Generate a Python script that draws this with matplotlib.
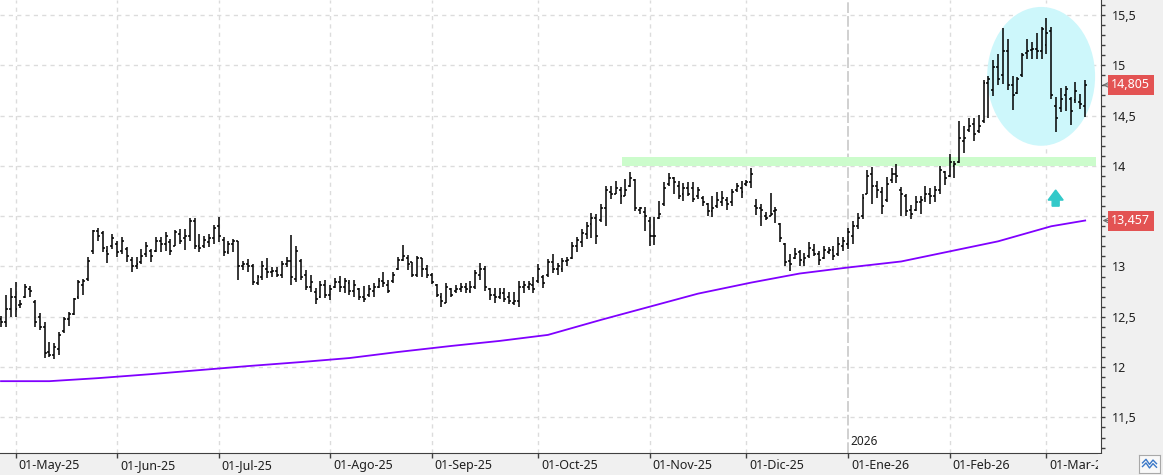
import matplotlib
matplotlib.use("Agg")
import matplotlib.pyplot as plt
import matplotlib.transforms as mtransforms
from matplotlib.patches import Ellipse, Rectangle, FancyArrow
from matplotlib.ticker import MultipleLocator, FuncFormatter
import pandas as pd

plt.rcParams['font.family'] = ['Noto Sans', 'DejaVu Sans']

# daily OHLC, 28-Apr-25 .. 12-Mar-26 (trading days)
high = [
    12.51, 12.72, 12.79, 12.85, 12.67, 12.83, 12.81, 12.67, 12.54, 12.45,
    12.25, 12.24, 12.35, 12.50, 12.55, 12.69, 12.87, 12.88, 13.09, 13.36,
    13.38, 13.35, 13.20, 13.32, 13.25, 13.29, 13.19, 13.09, 13.09, 13.17,
    13.24, 13.17, 13.29, 13.29, 13.34, 13.27, 13.36, 13.37, 13.37, 13.48,
    13.48, 13.32, 13.30, 13.32, 13.41, 13.49, 13.29, 13.25, 13.27, 13.25,
    13.05, 13.07, 13.02, 12.92, 13.05, 13.08, 12.99, 12.99, 13.05, 13.09,
    13.31, 13.20, 13.07, 12.97, 12.92, 12.79, 12.86, 12.87, 12.82, 12.89,
    12.91, 12.89, 12.87, 12.87, 12.79, 12.81, 12.82, 12.84, 12.89, 12.95,
    12.87, 12.95, 13.09, 13.21, 13.11, 13.04, 13.10, 13.08, 13.01, 12.94,
    12.83, 12.74, 12.84, 12.79, 12.82, 12.84, 12.84, 12.86, 12.97, 13.03,
    13.00, 12.79, 12.79, 12.79, 12.79, 12.75, 12.75, 12.86, 12.86, 12.86,
    12.90, 13.02, 12.92, 13.07, 13.12, 13.03, 13.08, 13.09, 13.24, 13.29,
    13.37, 13.44, 13.53, 13.52, 13.62, 13.80, 13.80, 13.85, 13.79, 13.87,
    13.94, 13.87, 13.59, 13.59, 13.49, 13.49, 13.65, 13.84, 13.93, 13.89,
    13.85, 13.83, 13.84, 13.84, 13.79, 13.70, 13.63, 13.70, 13.74, 13.75,
    13.69, 13.77, 13.83, 13.85, 13.86, 13.98, 13.67, 13.62, 13.54, 13.73,
    13.59, 13.43, 13.23, 13.12, 13.18, 13.16, 13.13, 13.24, 13.22, 13.15,
    13.20, 13.19, 13.20, 13.29, 13.29, 13.38, 13.45, 13.53, 13.72, 13.96,
    13.99, 13.85, 13.79, 13.89, 13.98, 14.02, 13.79, 13.72, 13.61, 13.70,
    13.70, 13.80, 13.78, 13.80, 14.00, 13.95, 14.12, 14.05, 14.45, 14.40,
    14.48, 14.48, 14.51, 14.85, 14.89, 15.05, 15.11, 15.37, 15.26, 14.89,
    14.88, 15.12, 15.26, 15.23, 15.32, 15.38, 15.47, 15.38, 14.68, 14.77,
    14.79, 14.68, 14.83, 14.71, 14.85]

low = [
    12.40, 12.40, 12.50, 12.50, 12.59, 12.69, 12.70, 12.40, 12.37, 12.09,
    12.10, 12.08, 12.12, 12.34, 12.41, 12.52, 12.68, 12.72, 12.86, 13.12,
    13.25, 13.14, 13.03, 13.17, 13.09, 13.12, 13.04, 12.95, 12.98, 13.02,
    13.09, 13.04, 13.14, 13.14, 13.15, 13.11, 13.20, 13.22, 13.16, 13.25,
    13.17, 13.14, 13.18, 13.19, 13.22, 13.24, 13.10, 13.12, 13.14, 12.87,
    12.97, 12.95, 12.82, 12.82, 12.87, 12.89, 12.90, 12.90, 12.89, 12.99,
    12.82, 12.85, 12.87, 12.77, 12.75, 12.63, 12.69, 12.69, 12.67, 12.79,
    12.75, 12.74, 12.72, 12.70, 12.67, 12.65, 12.70, 12.70, 12.79, 12.80,
    12.74, 12.84, 12.97, 13.05, 12.97, 12.90, 12.90, 12.90, 12.89, 12.83,
    12.70, 12.60, 12.64, 12.70, 12.74, 12.75, 12.74, 12.74, 12.78, 12.87,
    12.76, 12.67, 12.64, 12.68, 12.65, 12.63, 12.62, 12.60, 12.74, 12.77,
    12.74, 12.84, 12.79, 12.90, 12.94, 12.92, 12.95, 13.00, 13.07, 13.14,
    13.19, 13.27, 13.28, 13.22, 13.44, 13.40, 13.67, 13.72, 13.62, 13.70,
    13.79, 13.55, 13.52, 13.35, 13.20, 13.21, 13.47, 13.60, 13.80, 13.72,
    13.67, 13.65, 13.70, 13.64, 13.67, 13.60, 13.50, 13.49, 13.58, 13.60,
    13.56, 13.60, 13.74, 13.68, 13.80, 13.78, 13.51, 13.40, 13.46, 13.50,
    13.43, 13.24, 13.00, 12.96, 13.07, 13.00, 13.00, 13.08, 13.10, 13.01,
    13.07, 13.12, 13.06, 13.10, 13.15, 13.17, 13.22, 13.37, 13.47, 13.72,
    13.62, 13.68, 13.52, 13.64, 13.83, 13.83, 13.50, 13.50, 13.47, 13.55,
    13.52, 13.64, 13.62, 13.64, 13.72, 13.81, 13.89, 13.88, 14.03, 14.13,
    14.34, 14.25, 14.33, 14.43, 14.48, 14.69, 14.80, 14.81, 14.75, 14.56,
    14.71, 14.88, 15.06, 15.06, 15.06, 15.06, 15.11, 14.66, 14.34, 14.54,
    14.55, 14.41, 14.63, 14.57, 14.49]

opn = [
    12.48, 12.45, 12.58, 12.70, 12.62, 12.70, 12.78, 12.65, 12.50, 12.40,
    12.15, 12.12, 12.18, 12.36, 12.48, 12.53, 12.70, 12.82, 12.88, 13.15,
    13.35, 13.33, 13.15, 13.20, 13.22, 13.15, 13.17, 13.06, 13.00, 13.04,
    13.12, 13.15, 13.15, 13.25, 13.22, 13.24, 13.20, 13.32, 13.28, 13.30,
    13.45, 13.20, 13.20, 13.24, 13.28, 13.40, 13.26, 13.14, 13.22, 13.25,
    13.00, 13.02, 13.00, 12.84, 12.90, 12.98, 12.95, 12.96, 12.92, 13.02,
    13.05, 12.88, 13.05, 12.92, 12.80, 12.75, 12.70, 12.82, 12.72, 12.80,
    12.85, 12.80, 12.84, 12.76, 12.78, 12.70, 12.72, 12.76, 12.80, 12.86,
    12.82, 12.86, 12.98, 13.06, 13.08, 13.04, 12.92, 13.08, 12.98, 12.92,
    12.82, 12.70, 12.64, 12.78, 12.76, 12.78, 12.80, 12.76, 12.80, 12.92,
    12.98, 12.78, 12.72, 12.70, 12.74, 12.70, 12.64, 12.66, 12.80, 12.80,
    12.82, 12.86, 12.90, 12.92, 13.04, 12.98, 12.98, 13.05, 13.08, 13.20,
    13.24, 13.32, 13.42, 13.48, 13.46, 13.58, 13.74, 13.72, 13.76, 13.70,
    13.80, 13.86, 13.56, 13.54, 13.45, 13.30, 13.48, 13.62, 13.82, 13.88,
    13.80, 13.72, 13.78, 13.78, 13.70, 13.68, 13.62, 13.55, 13.60, 13.64,
    13.66, 13.64, 13.76, 13.78, 13.82, 13.84, 13.60, 13.58, 13.50, 13.50,
    13.55, 13.42, 13.22, 13.05, 13.08, 13.14, 13.04, 13.10, 13.16, 13.12,
    13.08, 13.14, 13.16, 13.12, 13.20, 13.22, 13.30, 13.40, 13.50, 13.72,
    13.92, 13.80, 13.74, 13.66, 13.86, 13.92, 13.76, 13.70, 13.56, 13.56,
    13.64, 13.68, 13.72, 13.70, 13.76, 13.94, 13.90, 14.00, 14.04, 14.25,
    14.36, 14.42, 14.35, 14.45, 14.82, 14.75, 14.98, 14.90, 15.14, 14.80,
    14.72, 14.90, 15.12, 15.15, 15.16, 15.14, 15.20, 15.34, 14.60, 14.58,
    14.70, 14.66, 14.65, 14.64, 14.60]

close = [
    12.45, 12.58, 12.70, 12.58, 12.63, 12.80, 12.76, 12.45, 12.40, 12.14,
    12.12, 12.20, 12.32, 12.48, 12.53, 12.68, 12.85, 12.86, 13.05, 13.35,
    13.30, 13.18, 13.12, 13.28, 13.14, 13.25, 13.10, 13.00, 13.02, 13.10,
    13.20, 13.10, 13.25, 13.22, 13.30, 13.15, 13.34, 13.25, 13.30, 13.45,
    13.20, 13.18, 13.26, 13.28, 13.38, 13.30, 13.14, 13.22, 13.25, 13.00,
    13.02, 13.00, 12.85, 12.90, 13.00, 12.95, 12.96, 12.92, 13.02, 13.05,
    12.90, 13.15, 12.90, 12.80, 12.85, 12.68, 12.82, 12.72, 12.78, 12.85,
    12.80, 12.86, 12.76, 12.82, 12.70, 12.68, 12.78, 12.80, 12.86, 12.84,
    12.76, 12.92, 13.06, 13.10, 13.02, 12.92, 13.08, 12.98, 12.92, 12.85,
    12.72, 12.66, 12.80, 12.72, 12.78, 12.80, 12.78, 12.80, 12.94, 12.98,
    12.80, 12.72, 12.70, 12.74, 12.68, 12.66, 12.66, 12.80, 12.82, 12.83,
    12.78, 12.98, 12.84, 13.04, 12.98, 13.00, 13.05, 13.06, 13.20, 13.26,
    13.33, 13.40, 13.48, 13.30, 13.58, 13.76, 13.72, 13.78, 13.70, 13.76,
    13.88, 13.58, 13.58, 13.50, 13.30, 13.30, 13.52, 13.78, 13.88, 13.84,
    13.70, 13.78, 13.72, 13.67, 13.76, 13.64, 13.55, 13.58, 13.66, 13.68,
    13.62, 13.74, 13.80, 13.74, 13.84, 13.92, 13.58, 13.56, 13.48, 13.52,
    13.56, 13.28, 13.04, 13.02, 13.12, 13.06, 13.08, 13.18, 13.12, 13.06,
    13.16, 13.16, 13.10, 13.22, 13.25, 13.34, 13.40, 13.48, 13.68, 13.90,
    13.80, 13.76, 13.60, 13.82, 13.92, 13.90, 13.72, 13.55, 13.52, 13.64,
    13.66, 13.72, 13.70, 13.76, 13.96, 13.88, 14.04, 14.02, 14.28, 14.28,
    14.40, 14.32, 14.40, 14.82, 14.86, 14.98, 14.86, 15.14, 14.80, 14.70,
    14.86, 15.10, 15.14, 15.16, 15.14, 15.36, 15.32, 14.70, 14.48, 14.66,
    14.76, 14.55, 14.74, 14.62, 14.805]

# long moving average (bar index, value)
ma_idx = [0, 10, 20, 31, 41, 51, 62, 72, 82, 93, 103, 113, 124, 134, 144,
          155, 165, 175, 186, 196, 206, 217, 224]
ma_val = [11.86, 11.86, 11.89, 11.93, 11.97, 12.01, 12.05, 12.09, 12.15, 12.21,
          12.26, 12.32, 12.47, 12.60, 12.73, 12.84, 12.93, 12.99, 13.05, 13.15,
          13.25, 13.40, 13.457]

last_price = 14.805
ma_last = 13.457
resist_lo, resist_hi = 14.0, 14.085
resist_from = 128.3

meses = ['Ene', 'Feb', 'Mar', 'Abr', 'May', 'Jun', 'Jul', 'Ago', 'Sep', 'Oct', 'Nov', 'Dic']
holidays = ['2025-05-01', '2025-12-25', '2025-12-26', '2026-01-01']

n = len(high)
assert len(low) == n and len(opn) == n and len(close) == n
dates = pd.bdate_range('2025-04-28', periods=n, freq='C', holidays=holidays)
month_starts = [i for i in range(1, n) if dates[i].month != dates[i - 1].month]
month_labels = [f"01-{meses[dates[i].month - 1]}-{dates[i].strftime('%y')}" for i in month_starts]
year_start = [i for i in month_starts if dates[i].month == 1][0]

W, H = 1163, 475
fig = plt.figure(figsize=(W / 100, H / 100), dpi=100, facecolor='#f0f0f0')
ax = fig.add_axes([0, 22 / H, 1101 / W, 453 / H])
ax.set_facecolor('white')

x = list(range(n))
ax.set_xlim(-0.21, 227.27)
ax.set_ylim(11.146, 15.649)

# grid
for i in month_starts:
    if i == year_start:
        ax.axvline(i, color='#c4c4c4', lw=1.1, ls=(0, (7, 2)), zorder=0)
    else:
        ax.axvline(i, color='#dcdcdc', lw=1.0, ls=(0, (3, 3)), zorder=0)
for v in [11.5, 12, 12.5, 13, 13.5, 14, 14.5, 15, 15.5]:
    ax.axhline(v, color='#dcdcdc', lw=1.0, ls=(0, (3, 3)), zorder=0)

# highlight zones
ax.add_patch(Ellipse((214.9, 14.89), 22.3, 1.38, facecolor='#cdf7fb', edgecolor='none', zorder=1))
ax.add_patch(Rectangle((resist_from, resist_lo), 226.2 - resist_from, resist_hi - resist_lo,
                       facecolor='#ccfccc', edgecolor='none', zorder=1))
ax.add_patch(FancyArrow(217.9, 13.60, 0, 0.16, width=1.45, head_width=3.1, head_length=0.1,
                        length_includes_head=True, color='#33c9c9', zorder=2))

# moving average
ax.plot(ma_idx, ma_val, color='#8000ff', lw=1.3, zorder=2)

# OHLC bars
xl = [i - 0.4 for i in x]
xr = [i + 0.4 for i in x]
ax.vlines(x, low, high, color='black', lw=1.1, zorder=3)
ax.hlines(opn, xl, x, color='black', lw=1.1, zorder=3)
ax.hlines(close, x, xr, color='black', lw=1.1, zorder=3)

# axes styling
for s in ['top', 'left']:
    ax.spines[s].set_visible(False)
ax.spines['right'].set_color('#404040')
ax.spines['bottom'].set_color('#404040')
ax.yaxis.tick_right()
ax.yaxis.set_major_locator(MultipleLocator(0.5))
ax.yaxis.set_minor_locator(MultipleLocator(0.1))


def price_fmt(v, p):
    # the 13,5 label is hidden behind the moving-average price box
    if abs(v - 13.5) < 1e-6:
        return ''
    return f"{v:g}".replace('.', ',')


ax.yaxis.set_major_formatter(FuncFormatter(price_fmt))
ax.tick_params(axis='y', which='both', length=3, width=1, color='#404040', pad=5,
               labelsize=9, labelcolor='#202020')
ax.set_xticks(month_starts)
ax.set_xticklabels(month_labels)
ax.tick_params(axis='x', length=3.6, width=1, color='#404040', pad=1, labelsize=9,
               labelcolor='#202020')
offset = mtransforms.ScaledTranslation(3 / 100, 0, fig.dpi_scale_trans)
for lab in ax.get_xticklabels():
    lab.set_ha('left')
    lab.set_transform(lab.get_transform() + offset)

ax.text(year_start + 0.4, 11.2, '2026', fontsize=8.5, color='#202020', ha='left', va='bottom')

# price labels on the right
blend = mtransforms.blended_transform_factory(ax.transAxes, ax.transData)
for val in [last_price, ma_last]:
    ax.text(1 + 10 / 1101, val, f"{val:.3f}".replace('.', ','), transform=blend,
            ha='left', va='center', fontsize=9, color='white', clip_on=False, zorder=5,
            bbox=dict(boxstyle='square,pad=0.28', fc='#e35353', ec='none'))
    ax.annotate('', xy=(1 + 1.5 / 1101, val), xytext=(1 + 8 / 1101, val), xycoords=blend,
                arrowprops=dict(arrowstyle='->', color='#707070', lw=0.8,
                                shrinkA=0, shrinkB=0), annotation_clip=False)

# cover the cut-off date label under the price panel
fig.patches.append(Rectangle((1098 / W, 0), 1 - 1098 / W, 21 / H, transform=fig.transFigure,
                             facecolor='#f0f0f0', edgecolor='none', zorder=5))
icon = fig.add_axes([1139 / W, 2 / H, 21 / W, 18 / H], zorder=6)
icon.set_facecolor('#f8f8f8')
for s in icon.spines.values():
    s.set_color('#a8a8a8')
icon.set_xticks([])
icon.set_yticks([])
icon.set_xlim(0, 6)
icon.set_ylim(0, 5)
icon.plot([1, 2, 3, 4, 5], [2.8, 3.8, 2.4, 3.6, 2.6], color='#3a78c8', lw=1)
icon.plot([1, 2, 3, 4, 5], [1.8, 2.8, 1.4, 2.6, 1.6], color='#3a78c8', lw=1)

fig.savefig('out.png', dpi=100, facecolor=fig.get_facecolor())
